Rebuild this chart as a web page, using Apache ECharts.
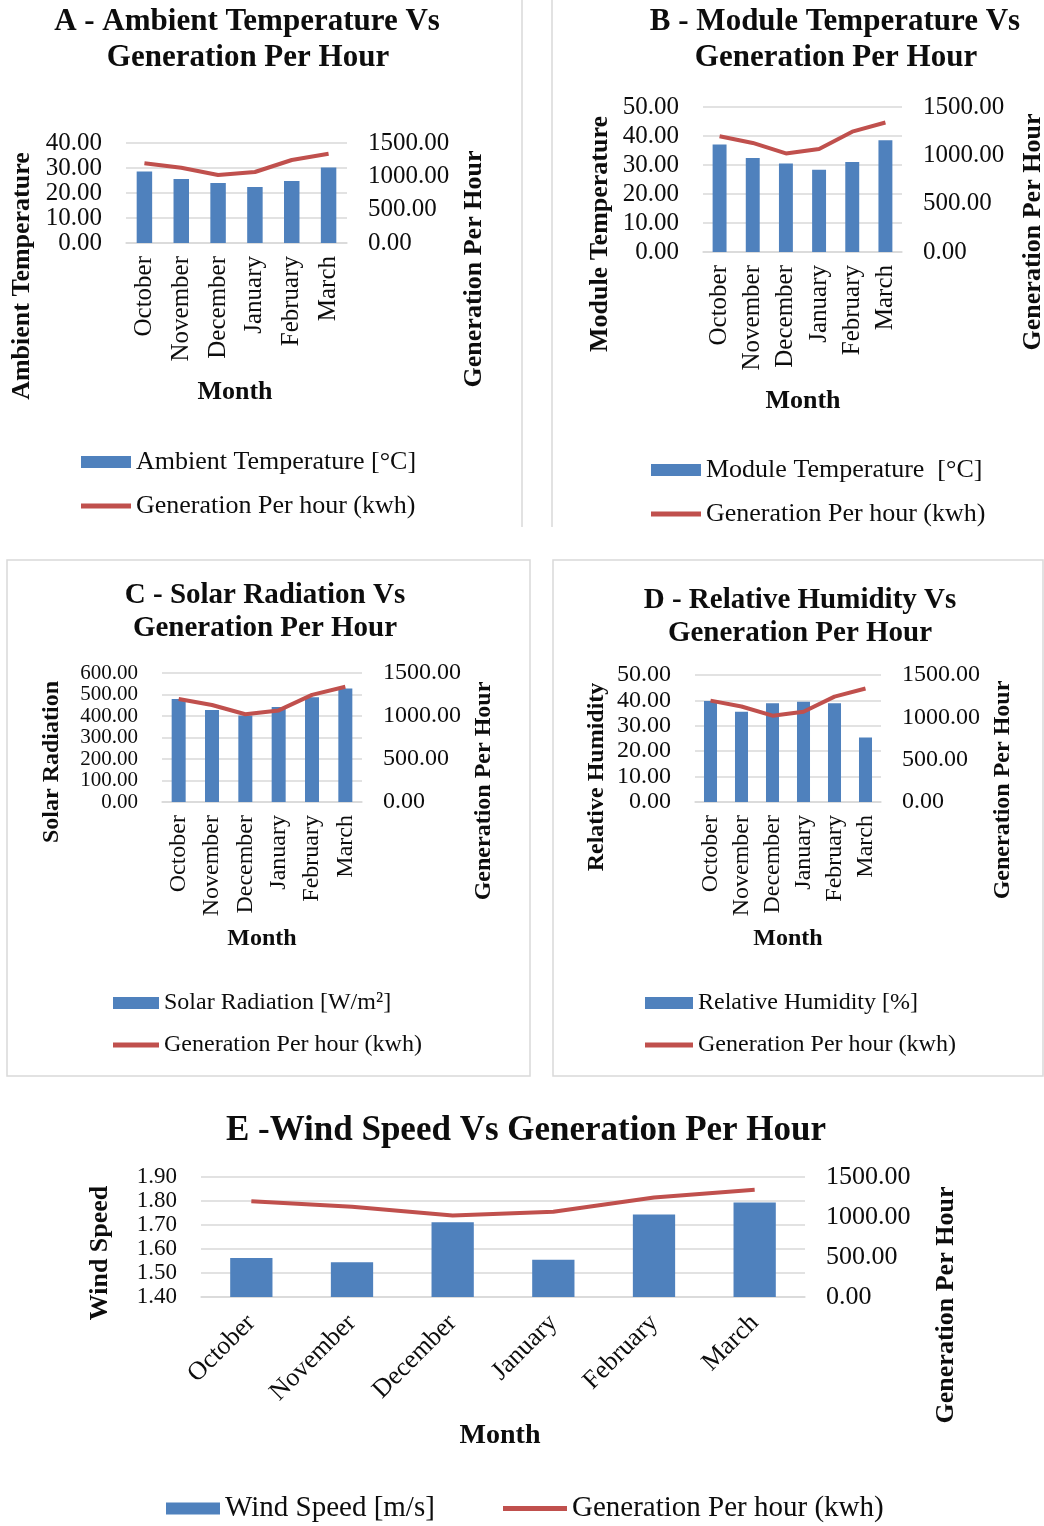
<!DOCTYPE html>
<html>
<head>
<meta charset="utf-8">
<title>Weather Parameters Vs Generation Per Hour</title>
<script src="https://cdn.jsdelivr.net/npm/echarts@6/dist/echarts.min.js"></script>
<style>
  html, body { margin: 0; padding: 0; background: #ffffff; }
  #chart { width: 1044px; height: 1526px; }
</style>
</head>
<body>
<div id="chart"></div>
<script>
// ---- data -------------------------------------------------------------
const months = ['October', 'November', 'December', 'January', 'February', 'March'];

const ambientTemp    = [28.6, 25.6, 24.0, 22.4, 24.8, 30.2];      // °C
const moduleTemp     = [37.1, 32.4, 30.5, 28.4, 31.0, 38.5];      // °C
const solarRadiation = [479, 428, 402, 442, 487, 528];            // W/m²
const humidity       = [39.8, 35.5, 38.9, 39.5, 38.9, 25.4];      // %
const windSpeed      = [1.562, 1.545, 1.711, 1.555, 1.744, 1.794]; // m/s
const genPerHour     = [1197, 1128, 1020, 1065, 1245, 1340];      // kWh

// left-axis ranges [min, max, step] and the shared right axis
const ambientTicks  = [0, 40, 10];
const moduleTicks   = [0, 50, 10];
const solarTicks    = [0, 600, 100];
const humidityTicks = [0, 50, 10];
const windTicks     = [1.4, 1.9, 0.1];
const genTicks      = [0, 1500, 500];

const genName = 'Generation Per hour (kwh)';

// ---- styling ----------------------------------------------------------
const FONT = '"Liberation Serif", "Times New Roman", serif';
const BLUE = '#4F81BD';
const RED = '#C0504D';
const GRID = '#D9D9D9';
const INK = '#0d0d0d';
const fmt2 = v => Number(v).toFixed(2);
// thick bar centred in a w x 12 legend icon box (the extra moves fix the box height)
const lineIcon = w => `path://M0,0 M0,12 M0,3.5 L${w},3.5 L${w},8.5 L0,8.5 Z`;

// leftSize / rightSize: tick label sizes; the densest left axes use a size
// no taller than their row spacing so every tick keeps its label
const panels = [
  {
    barName: 'Ambient Temperature [°C]', values: ambientTemp, ticks: ambientTicks,
    grid: { left: 126, top: 143, width: 221, height: 100 },
    leftSize: 25, rightSize: 25, catSize: 25, rotate: 90, catMargin: 13,
    legend: { left: 76, top: 444, orient: 'vertical', fontSize: 26, barWidth: 50, lineWidth: 50, itemGap: 18 }
  },
  {
    barName: 'Module Temperature  [°C]', values: moduleTemp, ticks: moduleTicks,
    grid: { left: 703, top: 107, width: 199, height: 145 },
    leftSize: 25, rightSize: 25, catSize: 25, rotate: 90, catMargin: 13,
    legend: { left: 646, top: 452, orient: 'vertical', fontSize: 26, barWidth: 50, lineWidth: 50, itemGap: 18 }
  },
  {
    barName: 'Solar Radiation [W/m²]', values: solarRadiation, ticks: solarTicks,
    grid: { left: 162, top: 673, width: 200, height: 129 },
    leftSize: 21, rightSize: 24, catSize: 24, rotate: 90, catMargin: 13,
    legend: { left: 108, top: 986, orient: 'vertical', fontSize: 24, barWidth: 46, lineWidth: 46, itemGap: 18 }
  },
  {
    barName: 'Relative Humidity [%]', values: humidity, ticks: humidityTicks,
    grid: { left: 695, top: 675, width: 186, height: 127 },
    leftSize: 24, rightSize: 24, catSize: 24, rotate: 90, catMargin: 13,
    legend: { left: 640, top: 986, orient: 'vertical', fontSize: 24, barWidth: 48, lineWidth: 48, itemGap: 18 }
  },
  {
    barName: 'Wind Speed [m/s]', values: windSpeed, ticks: windTicks,
    grid: { left: 201, top: 1177, width: 604, height: 120 },
    leftSize: 23, rightSize: 26, catSize: 26, rotate: 45, catMargin: 22,
    legend: { left: 161, top: 1489, orient: 'horizontal', fontSize: 29, barWidth: 54, lineWidth: 64, itemGap: 56 }
  }
];

const grids = [], xAxes = [], yAxes = [], series = [], legends = [];

panels.forEach((p, i) => {
  grids.push(Object.assign({ containLabel: false, outerBoundsMode: 'none' }, p.grid));

  xAxes.push({
    type: 'category', gridIndex: i, data: months,
    axisLine: { show: true, lineStyle: { color: GRID, width: 1.5 } },
    axisTick: { show: false },
    axisLabel: {
      interval: 0, rotate: p.rotate, margin: p.catMargin, hideOverlap: false,
      fontFamily: FONT, fontSize: p.catSize, color: INK
    }
  });

  const tickLabel = (margin, size) => ({
    formatter: fmt2, margin: margin, hideOverlap: false,
    showMinLabel: true, showMaxLabel: true,
    fontFamily: FONT, fontSize: size, color: INK
  });

  yAxes.push({
    type: 'value', gridIndex: i, position: 'left',
    min: p.ticks[0], max: p.ticks[1], interval: p.ticks[2],
    axisLine: { show: false }, axisTick: { show: false },
    splitLine: { show: true, lineStyle: { color: GRID, width: 1.5 } },
    axisLabel: tickLabel(24, p.leftSize)
  });
  yAxes.push({
    type: 'value', gridIndex: i, position: 'right',
    min: genTicks[0], max: genTicks[1], interval: genTicks[2],
    axisLine: { show: false }, axisTick: { show: false },
    splitLine: { show: false },
    axisLabel: tickLabel(21, p.rightSize)
  });

  series.push({
    type: 'bar', name: p.barName, xAxisIndex: i, yAxisIndex: 2 * i,
    data: p.values, barWidth: '42%',
    itemStyle: { color: BLUE }
  });
  series.push({
    type: 'line', name: genName, xAxisIndex: i, yAxisIndex: 2 * i + 1,
    data: genPerHour, symbol: 'none', smooth: false,
    lineStyle: { color: RED, width: 4 }, itemStyle: { color: RED }
  });

  const lg = p.legend;
  const textStyle = { fontFamily: FONT, fontSize: lg.fontSize, color: INK };
  if (lg.orient === 'vertical') {
    legends.push({
      left: lg.left, top: lg.top, orient: 'vertical',
      itemWidth: lg.barWidth, itemHeight: 12, itemGap: lg.itemGap, selectedMode: false,
      textStyle: textStyle,
      data: [
        { name: p.barName, icon: 'rect', itemStyle: { color: BLUE } },
        { name: genName, icon: lineIcon(lg.lineWidth), itemStyle: { color: RED } }
      ]
    });
  } else {
    // one legend per entry so each icon can have its own width
    legends.push({
      left: lg.left, top: lg.top, orient: 'horizontal',
      itemWidth: lg.barWidth, itemHeight: 12, selectedMode: false,
      textStyle: textStyle,
      data: [{ name: p.barName, icon: 'rect', itemStyle: { color: BLUE } }]
    });
    legends.push({
      left: 498, top: lg.top, orient: 'horizontal',
      itemWidth: lg.lineWidth, itemHeight: 12, selectedMode: false,
      textStyle: textStyle,
      data: [{ name: genName, icon: lineIcon(lg.lineWidth), itemStyle: { color: RED } }]
    });
  }
});

// ---- text: titles and axis names ---------------------------------------
function label(text, x, y, size, rotated) {
  return {
    type: 'text', x: x, y: y, rotation: rotated ? Math.PI / 2 : 0, silent: true,
    style: {
      text: text, fontFamily: FONT, fontSize: size, fontWeight: 'bold', fill: INK,
      align: 'center', verticalAlign: 'middle'
    }
  };
}

const texts = [
  // panel titles
  label('A - Ambient Temperature Vs', 247, 22, 31),
  label('Generation Per Hour', 248, 58, 31),
  label('B - Module Temperature Vs', 835, 22, 31),
  label('Generation Per Hour', 836, 58, 31),
  label('C - Solar Radiation Vs', 265, 596, 29),
  label('Generation Per Hour', 265, 629, 29),
  label('D - Relative Humidity Vs', 800, 601, 29),
  label('Generation Per Hour', 800, 634, 29),
  label('E -Wind Speed Vs Generation Per Hour', 526, 1131, 35),

  // axis names
  label('Ambient Temperature', 22, 276, 26, true),
  label('Generation Per Hour', 474, 269, 26, true),
  label('Month', 235, 392, 26),
  label('Module Temperature', 600, 234, 26, true),
  label('Generation Per Hour', 1033, 232, 26, true),
  label('Month', 803, 401, 26),
  label('Solar Radiation', 52, 762, 24, true),
  label('Generation Per Hour', 484, 791, 24, true),
  label('Month', 262, 939, 24),
  label('Relative Humidity', 597, 777, 24, true),
  label('Generation Per Hour', 1003, 790, 24, true),
  label('Month', 788, 939, 24),
  label('Wind Speed', 100, 1253, 26, true),
  label('Generation Per Hour', 946, 1305, 26, true),
  label('Month', 500, 1436, 28)
];

// ---- panel frames -------------------------------------------------------
const frameStyle = { stroke: GRID, lineWidth: 1.5, fill: null };
const frames = [
  { type: 'line', silent: true, shape: { x1: 522, y1: 0, x2: 522, y2: 527 }, style: frameStyle },
  { type: 'line', silent: true, shape: { x1: 552, y1: 0, x2: 552, y2: 527 }, style: frameStyle },
  { type: 'rect', silent: true, shape: { x: 7, y: 560, width: 523, height: 516 }, style: frameStyle },
  { type: 'rect', silent: true, shape: { x: 553, y: 560, width: 490, height: 516 }, style: frameStyle }
];

const chart = echarts.init(document.getElementById('chart'), null, { renderer: 'canvas' });
chart.setOption({
  backgroundColor: '#ffffff',
  animation: false,
  textStyle: { fontFamily: FONT },
  grid: grids,
  xAxis: xAxes,
  yAxis: yAxes,
  legend: legends,
  series: series,
  graphic: { elements: frames.concat(texts) }
});
</script>
</body>
</html>
